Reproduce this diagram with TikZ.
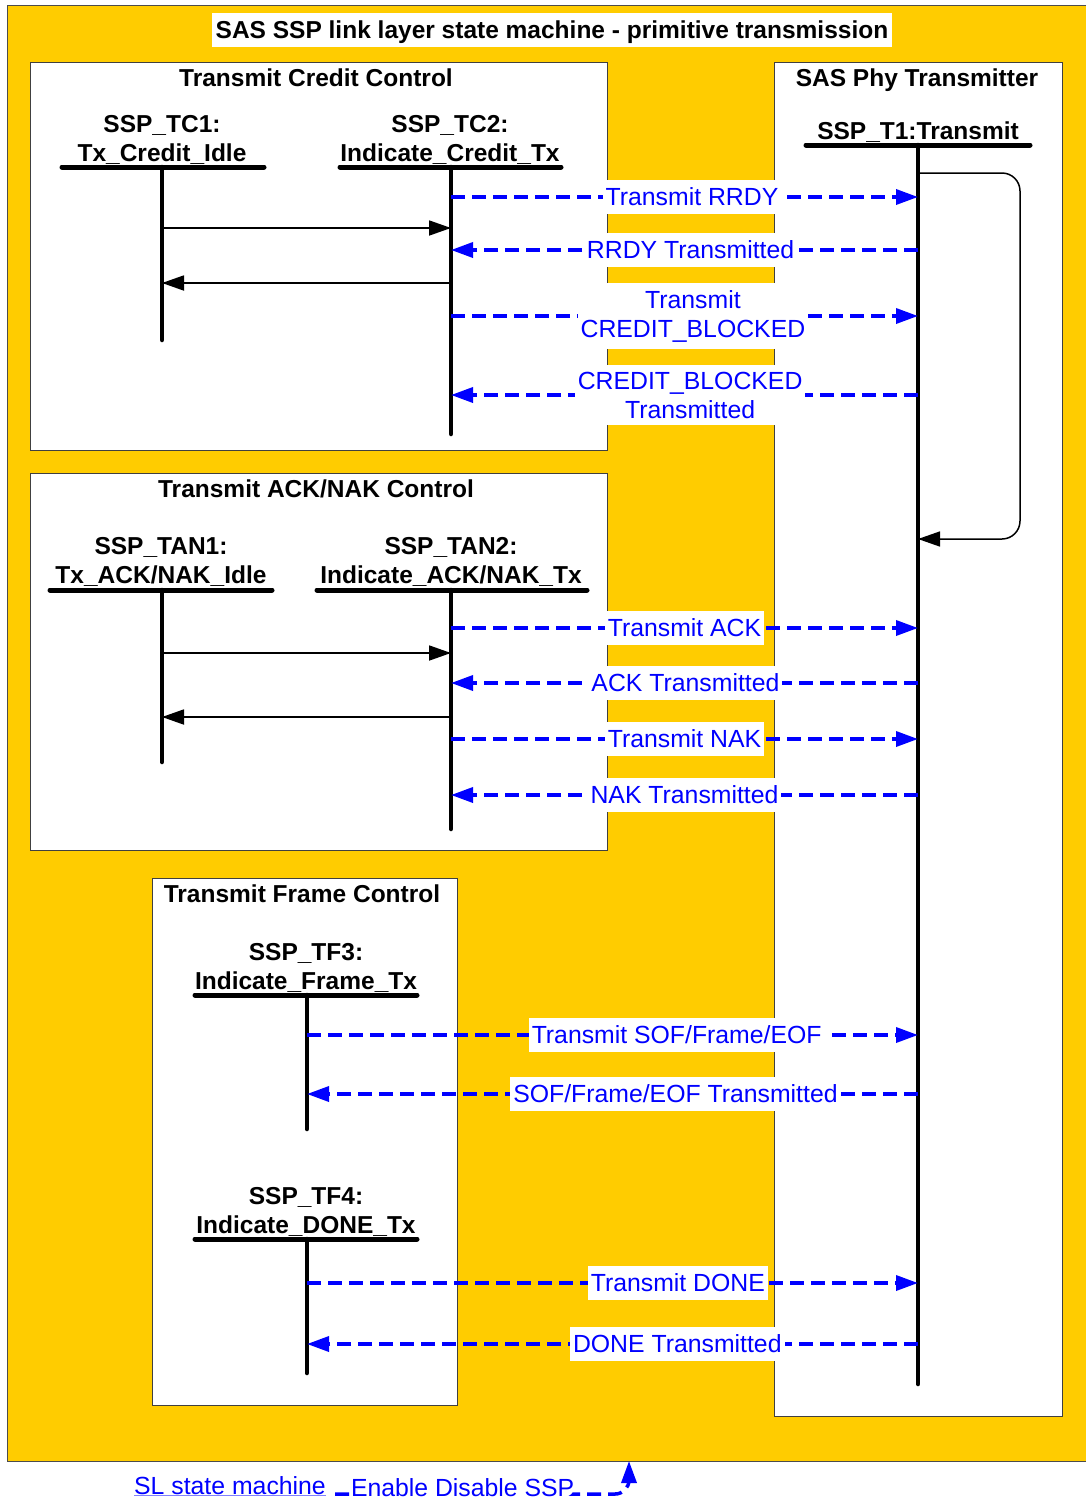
\documentclass[tikz,border=0pt]{standalone}
\usepackage{fontspec}
\setmainfont{Liberation Sans}
\usetikzlibrary{arrows.meta,positioning}
\definecolor{sasyellow}{RGB}{255,204,0}
\definecolor{primblue}{RGB}{0,0,255}
\newcommand{\boldfont}{\fontsize{24.5}{29}\selectfont\bfseries}
\newcommand{\primfont}{\fontsize{24.8}{29}\selectfont}

\begin{document}
\begin{tikzpicture}[x=1pt,y=-1pt,>=Latex,
  panel/.style={draw=black!75,fill=white,line width=1pt,inner sep=0pt,anchor=north west},
  paneltitle/.style={font=\boldfont,inner sep=0pt,text depth=0pt},
  statelabel/.style={font=\boldfont,align=center,inner sep=0pt,anchor=south},
  statebar/.style={line width=5pt,line cap=round},
  lifeline/.style={line width=4.5pt,line cap=round},
  call/.style={line width=1.8pt,-{Triangle[length=22pt,width=15pt]}},
  selfcall/.style={line width=1.5pt,rounded corners=18pt,-{Triangle[length=22pt,width=15pt]}},
  prim/.style={draw=primblue,line width=3.5pt,dash pattern=on 14pt off 7pt,-{Triangle[length=22pt,width=15pt]}},
  primlabel/.style={fill=white,text=primblue,font=\primfont,inner xsep=3pt,inner ysep=7pt,minimum height=34pt,align=center}]

\useasboundingbox (0,0) rectangle (1086,1502);
\fill[white] (0,0) rectangle (1086,1502);
\node[draw=black!70,fill=sasyellow,line width=1pt,inner sep=0pt,anchor=north west,minimum width=1090,minimum height=1456] (sasmachine) at (7,5) {};
\node[fill=white,font=\boldfont,inner sep=0pt,text depth=0pt,minimum width=680,minimum height=34] (title) at (552,30) {SAS SSP link layer state machine - primitive transmission};

% panels
\node[panel,minimum width=577,minimum height=388] (credit) at (30,62) {};
\node[paneltitle] (credit title) at (316,78) {Transmit Credit Control};
\node[panel,minimum width=288,minimum height=1354] (phy) at (774,62) {};
\node[paneltitle] (phy title) at (917,78) {SAS Phy Transmitter};
\node[panel,minimum width=577,minimum height=377] (acknak) at (30,473) {};
\node[paneltitle] (acknak title) at (316,489) {Transmit ACK/NAK Control};
\node[panel,minimum width=305,minimum height=527] (framectl) at (152,878) {};
\node[paneltitle] (framectl title) at (302,894) {Transmit Frame Control};

% states
\node[statelabel] (tc1 label) at (162,165) {SSP\_TC1:\\Tx\_Credit\_Idle};
\node[statelabel] (tc2 label) at (450,165) {SSP\_TC2:\\Indicate\_Credit\_Tx};
\node[statelabel] (t1 label) at (918,143) {SSP\_T1:Transmit};
\node[statelabel] (tan1 label) at (161,587) {SSP\_TAN1:\\Tx\_ACK/NAK\_Idle};
\node[statelabel] (tan2 label) at (451,587) {SSP\_TAN2:\\Indicate\_ACK/NAK\_Tx};
\node[statelabel] (tf3 label) at (306,993) {SSP\_TF3:\\Indicate\_Frame\_Tx};
\node[statelabel] (tf4 label) at (306,1237) {SSP\_TF4:\\Indicate\_DONE\_Tx};

\draw[statebar] (62,167) -- (264,167);
\draw[statebar] (340,167) -- (561,167);
\draw[statebar] (806,145) -- (1030,145);
\draw[statebar] (50,590) -- (272,590);
\draw[statebar] (317,590) -- (587,590);
\draw[statebar] (195,995) -- (417,995);
\draw[statebar] (195,1239) -- (417,1239);

% lifelines
\coordinate (tc1) at (162,167); \coordinate (tc1 end) at (162,340);
\coordinate (tc2) at (451,167); \coordinate (tc2 end) at (451,434);
\coordinate (t1) at (918,145); \coordinate (t1 end) at (918,1384);
\coordinate (tan1) at (162,590); \coordinate (tan1 end) at (162,762);
\coordinate (tan2) at (451,590); \coordinate (tan2 end) at (451,829);
\coordinate (tf3) at (307,995); \coordinate (tf3 end) at (307,1129);
\coordinate (tf4) at (307,1239); \coordinate (tf4 end) at (307,1373);
\foreach \l in {tc1,tc2,t1,tan1,tan2,tf3,tf4}
  \draw[lifeline] (\l) -- (\l\space end);

% credit control
\draw[call] (tc1 |- 0,228) -- (tc2 |- 0,228);
\draw[call] (tc2 |- 0,283) -- (tc1 |- 0,283);
\draw[prim] (tc2 |- 0,197) -- node[primlabel,pos=0.516] (rrdy) {Transmit RRDY} (t1 |- 0,197);
\draw[prim] (t1 |- 0,250) -- node[primlabel,pos=0.487] (rrdy done) {RRDY Transmitted} (tc2 |- 0,250);
\draw[prim] (tc2 |- 0,316) -- node[primlabel,pos=0.518] (blocked) {Transmit\\CREDIT\_BLOCKED} (t1 |- 0,316);
\draw[prim] (t1 |- 0,395) -- node[primlabel,pos=0.488] (blocked done) {CREDIT\_BLOCKED\\Transmitted} (tc2 |- 0,395);
\draw[selfcall] (t1 |- 0,173) -- (1020,173) -- (1020,539) -- (t1 |- 0,539);

% ack/nak control
\draw[call] (tan1 |- 0,653) -- (tan2 |- 0,653);
\draw[call] (tan2 |- 0,717) -- (tan1 |- 0,717);
\draw[prim] (tan2 |- 0,628) -- node[primlabel,pos=0.5] (ack) {Transmit ACK} (t1 |- 0,628);
\draw[prim] (t1 |- 0,683) -- node[primlabel,pos=0.498] (ack done) {ACK Transmitted} (tan2 |- 0,683);
\draw[prim] (tan2 |- 0,739) -- node[primlabel,pos=0.5] (nak) {Transmit NAK} (t1 |- 0,739);
\draw[prim] (t1 |- 0,795) -- node[primlabel,pos=0.5] (nak done) {NAK Transmitted} (tan2 |- 0,795);

% frame control
\draw[prim] (tf3 |- 0,1035) -- node[primlabel,pos=0.605] (sof) {Transmit SOF/Frame/EOF} (t1 |- 0,1035);
\draw[prim] (t1 |- 0,1094) -- node[primlabel,pos=0.397] (sof done) {SOF/Frame/EOF Transmitted} (tf3 |- 0,1094);
\draw[prim] (tf4 |- 0,1283) -- node[primlabel,pos=0.607] (done) {Transmit DONE} (t1 |- 0,1283);
\draw[prim] (t1 |- 0,1344) -- node[primlabel,pos=0.394] (done done) {DONE Transmitted} (tf4 |- 0,1344);

% SL state machine
\node[font=\primfont,inner sep=0pt,anchor=base west] (sl) at (134,1494) {\color{primblue!50}\underline{\textcolor{primblue}{SL state machine}}};
\coordinate (enable) at (629,1461);
\draw[prim,rounded corners=14pt,shorten <=9pt] (sl.base east) -- node[primlabel,pos=0.451,yshift=6pt,inner xsep=1pt,inner ysep=1pt,minimum height=0pt] (enable label) {Enable Disable SSP} (enable |- sl.base east) -- (enable);
\end{tikzpicture}
\end{document}
